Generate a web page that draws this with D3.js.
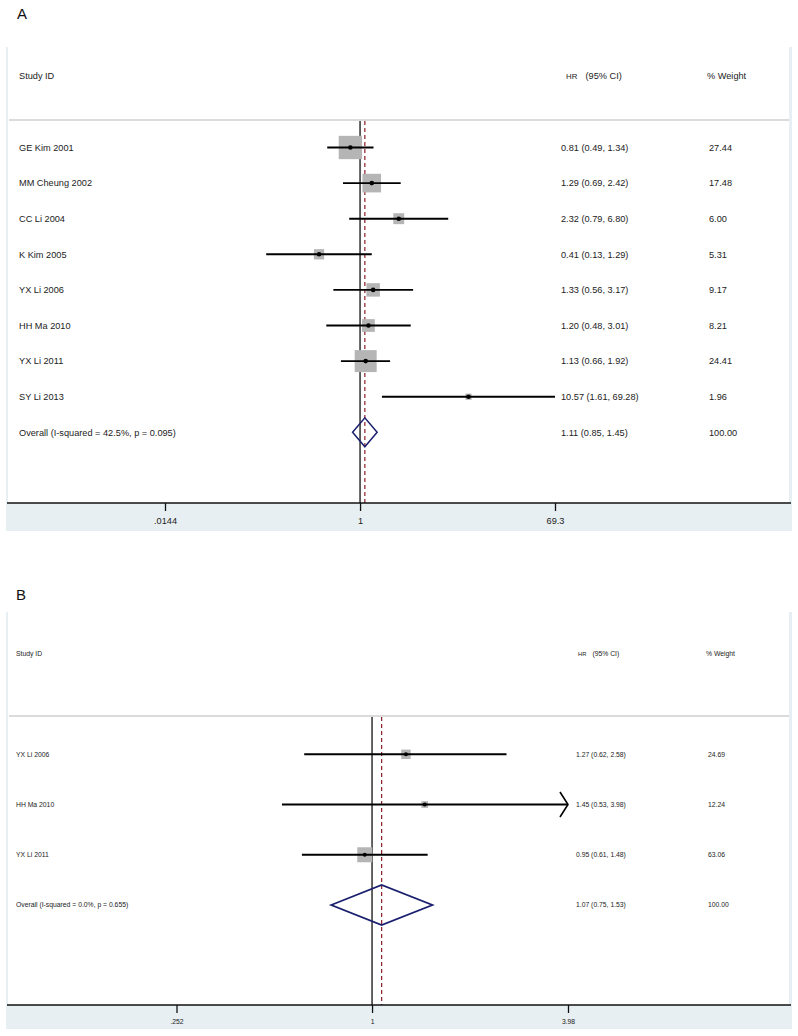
<!DOCTYPE html>
<html><head><meta charset="utf-8">
<script src="https://cdn.jsdelivr.net/npm/d3@7"></script>
<style>body{margin:0;background:#fff}svg{display:block;font-family:"Liberation Sans",Arial,sans-serif}</style>
</head><body><svg id="c" width="798" height="1036"></svg>
<script>
// ---------- Data: panel A ----------
const studiesA = ["GE Kim 2001","MM Cheung 2002","CC Li 2004","K Kim 2005","YX Li 2006","HH Ma 2010","YX Li 2011","SY Li 2013"];
const hrA      = [0.81, 1.29, 2.32, 0.41, 1.33, 1.20, 1.13, 10.57];
const loA      = [0.49, 0.69, 0.79, 0.13, 0.56, 0.48, 0.66, 1.61];
const hiA      = [1.34, 2.42, 6.80, 1.29, 3.17, 3.01, 1.92, 69.28];
const weightA  = [27.44, 17.48, 6.00, 5.31, 9.17, 8.21, 24.41, 1.96];
const overallA = {label:"Overall  (I-squared = 42.5%, p = 0.095)", hr:1.11, lo:0.85, hi:1.45, w:"100.00"};
const ticksA   = [0.0144, 1, 69.3];
const tickLabelsA = [".0144","1","69.3"];

// ---------- Data: panel B ----------
const studiesB = ["YX Li 2006","HH Ma 2010","YX Li 2011"];
const hrB      = [1.27, 1.45, 0.95];
const loB      = [0.62, 0.53, 0.61];
const hiB      = [2.58, 3.98, 1.48];
const weightB  = [24.69, 12.24, 63.06];
const overallB = {label:"Overall  (I-squared = 0.0%, p = 0.655)", hr:1.07, lo:0.75, hi:1.53, w:"100.00"};
const ticksB   = [0.252, 1, 3.98];
const tickLabelsB = [".252","1","3.98"];

const svg = d3.select("#c");
const f2 = d3.format(".2f");

function panel(cfg){
  const g = svg.append("g");
  const n = cfg.studies.length;
  const x = d3.scaleLog().domain([cfg.ticks[0], cfg.ticks[cfg.ticks.length-1]]).range([cfg.x0, cfg.x1]);
  const y = d3.scalePoint().domain(d3.range(n+1)).range([cfg.yFirst, cfg.yLast]);
  // frame tint + white plot area
  g.append("rect").attr("x",6).attr("y",cfg.top).attr("width",786).attr("height",cfg.bandBottom-cfg.top).attr("fill","#e7eff2");
  g.append("rect").attr("x",8).attr("y",cfg.top).attr("width",781).attr("height",cfg.axisY-cfg.top).attr("fill","#fff");
  // panel letter
  g.append("text").attr("x",cfg.letterX).attr("y",cfg.letterY).attr("font-size",15).attr("fill","#111").text(cfg.letter);
  // header
  g.append("text").attr("x",cfg.labelX).attr("y",cfg.headY).attr("font-size",cfg.fs).attr("fill","#222").text("Study ID");
  const h = g.append("text").attr("x",cfg.valX+cfg.hrDx).attr("y",cfg.headY).attr("fill","#222").attr("font-size",cfg.fs*0.85);
  h.append("tspan").text("HR");
  h.append("tspan").attr("dx",cfg.fs*0.9).attr("font-size",cfg.fs).text("(95% CI)");
  g.append("text").attr("x",cfg.wX-2).attr("y",cfg.headY).attr("font-size",cfg.fs).attr("fill","#222").text("% Weight");
  // header separator
  g.append("line").attr("x1",9).attr("x2",789).attr("y1",cfg.sepY).attr("y2",cfg.sepY).attr("stroke","#cfcfcf").attr("stroke-width",1.6);
  // reference line at 1 and overall dashed line
  g.append("line").attr("x1",x(1)).attr("x2",x(1)).attr("y1",cfg.sepY+1).attr("y2",cfg.axisY).attr("stroke","#111").attr("stroke-width",1.3);
  g.append("line").attr("x1",x(cfg.overall.hr)).attr("x2",x(cfg.overall.hr)).attr("y1",cfg.sepY+1).attr("y2",cfg.axisY)
    .attr("stroke","#8b1f2a").attr("stroke-width",1.2).attr("stroke-dasharray","4,3");
  // studies
  for(let i=0;i<n;i++){
    const yy = y(i), s = cfg.sq*Math.sqrt(cfg.weight[i]);
    g.append("rect").attr("x",x(cfg.hr[i])-s/2).attr("y",yy-s/2).attr("width",s).attr("height",s).attr("fill","#b5b5b5");
    const arrow = cfg.hi[i] >= x.domain()[1];
    const xr = Math.min(x(cfg.hi[i]), cfg.x1);
    g.append("line").attr("x1",x(cfg.lo[i])).attr("x2",xr).attr("y1",yy).attr("y2",yy).attr("stroke","#000").attr("stroke-width",1.9);
    if(arrow){
      g.append("path").attr("d",`M${xr-8},${yy-12.5}L${xr},${yy}L${xr-8},${yy+12.5}`).attr("fill","none").attr("stroke","#000").attr("stroke-width",1.6);
    }
    g.append("circle").attr("cx",x(cfg.hr[i])).attr("cy",yy).attr("r",cfg.dot).attr("fill","#000");
    g.append("text").attr("x",cfg.labelX).attr("y",yy).attr("dy","0.35em").attr("font-size",cfg.fs).attr("fill","#222").text(cfg.studies[i]);
    g.append("text").attr("x",cfg.valX).attr("y",yy).attr("dy","0.35em").attr("font-size",cfg.fs).attr("fill","#222")
      .text(`${f2(cfg.hr[i])} (${f2(cfg.lo[i])}, ${f2(cfg.hi[i])})`);
    g.append("text").attr("x",cfg.wX).attr("y",yy).attr("dy","0.35em").attr("font-size",cfg.fs).attr("fill","#222").text(f2(cfg.weight[i]));
  }
  // overall diamond
  const o = cfg.overall, yo = y(n);
  g.append("path").attr("d",`M${x(o.lo)},${yo}L${x(o.hr)},${yo-cfg.dh}L${x(o.hi)},${yo}L${x(o.hr)},${yo+cfg.dh}Z`)
    .attr("fill","none").attr("stroke","#1a1f6e").attr("stroke-width",cfg.dsw);
  g.append("text").attr("x",cfg.labelX).attr("y",yo).attr("dy","0.35em").attr("font-size",cfg.fs).attr("fill","#222").text(o.label);
  g.append("text").attr("x",cfg.valX).attr("y",yo).attr("dy","0.35em").attr("font-size",cfg.fs).attr("fill","#222")
    .text(`${f2(o.hr)} (${f2(o.lo)}, ${f2(o.hi)})`);
  g.append("text").attr("x",cfg.wX).attr("y",yo).attr("dy","0.35em").attr("font-size",cfg.fs).attr("fill","#222").text(o.w);
  // axis
  g.append("line").attr("x1",7).attr("x2",791).attr("y1",cfg.axisY).attr("y2",cfg.axisY).attr("stroke","#111").attr("stroke-width",1.3);
  const ax = g.append("g").attr("transform",`translate(0,${cfg.axisY})`)
    .call(d3.axisBottom(x).tickValues(cfg.ticks).tickFormat((d,i)=>cfg.tickLabels[i]).tickSize(8).tickSizeOuter(0).tickPadding(cfg.tickPad));
  ax.select(".domain").remove();
  ax.selectAll(".tick line").attr("stroke","#111").attr("stroke-width",1.3);
  ax.selectAll(".tick text").attr("font-size",cfg.fs).attr("fill","#222").attr("font-family","Liberation Sans, Arial, sans-serif");
}

panel({letter:"A", letterX:17, letterY:19, top:47, headY:79, sepY:120, axisY:503, bandBottom:531,
  studies:studiesA, hr:hrA, lo:loA, hi:hiA, weight:weightA, overall:overallA, ticks:ticksA, tickLabels:tickLabelsA,
  x0:165, x1:555, yFirst:147.5, yLast:432.3, labelX:19, valX:561, hrDx:5, wX:709, fs:9.2, sq:4.45, dot:2.3, dh:14.5, dsw:1.5, tickPad:6});

panel({letter:"B", letterX:16, letterY:600, top:612, headY:656, sepY:716, axisY:1005, bandBottom:1029,
  studies:studiesB, hr:hrB, lo:loB, hi:hiB, weight:weightB, overall:overallB, ticks:ticksB, tickLabels:tickLabelsB,
  x0:176.5, x1:568, yFirst:754.3, yLast:905, labelX:16, valX:576, hrDx:2, wX:708, fs:6.8, sq:1.89, dot:2, dh:20, dsw:1.8, tickPad:6});
</script></body></html>
